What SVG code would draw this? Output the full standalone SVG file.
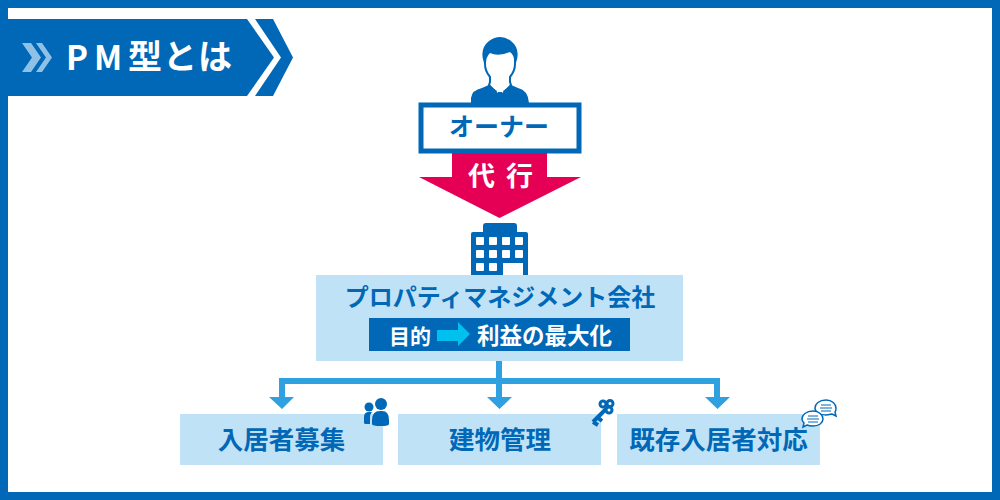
<svg xmlns="http://www.w3.org/2000/svg" width="1000" height="500" viewBox="0 0 1000 500">
<style>
text{font-family:"Noto Sans CJK JP","Noto Sans",sans-serif;font-weight:700;text-anchor:middle}
.b{fill:#0068b7}.lb{fill:#c0e2f6}.bt{fill:#0068b7;font-size:25.500px}.wt{fill:#fff}
.wire{fill:none;stroke:#2fa0e0;stroke-width:6}.head{fill:#2fa0e0}
</style>
<rect x="4" y="4" width="992" height="492" fill="#fff" stroke="#0068b7" stroke-width="8"/>
<g id="title">
<path class="b" d="M0 19H247L274 57.500L247 96H0Z"/>
<path class="b" d="M255 19H273L293 57.500L273 96H255L281 57.500Z"/>
<path d="M22 43H31L41 57.500L31 72H22L32 57.500Z M36 43H42L52 57.500L42 72H36L46 57.500Z" fill="#8fc1e6"/>
<text class="wt" x="66" y="70" font-size="33" style="text-anchor:start;letter-spacing:6px">PM</text>
<text class="wt" x="128" y="69" font-size="34" style="text-anchor:start;letter-spacing:1px">型とは</text>
</g>
<g id="owner">
<g id="owner-icon">
<path class="b" d="M471 103V98Q472 90 482 88L491 84L500 92L509 84L518 88Q528 90 529 103Z"/>
<path d="M485 50V64Q485 71 490 77V82L489 85L500 97L511 85L510 82V77Q515 71 515 64V50Z" fill="#fff" stroke="#0068b7" stroke-width="2"/>
<path class="b" d="M484 63Q479 49 489 41Q500 33 511 41Q521 49 516 63L514 63Q515 56 510 52Q498 57 490 53Q486 57 486 63Z"/>
<path class="b" d="M490 86L497 91L494 97Z M510 86L503 91L506 97Z M498 92H502L505 103H495Z"/>
</g>
<rect x="421" y="105" width="158" height="46" fill="#fff" stroke="#0068b7" stroke-width="5"/>
<text x="499" y="136" font-size="25" fill="#0068b7">オーナー</text>
</g>
<g id="delegate">
<path d="M452 153H547V177H581L499.500 218L419 177H452Z" fill="#e60055"/>
<text class="wt" x="468" y="186" font-size="27" style="text-anchor:start;letter-spacing:11px">代行</text>
</g>
<g id="company">
<g id="building">
<path class="b" d="M471 275V234Q471 232 473 232H483V226Q483 223 486 223H514Q517 223 517 226V232H526Q528 232 528 234V275H523V263H503V275Z"/>
<g fill="#fff">
<rect x="476" y="237" width="8" height="8" rx="1"/><rect x="489" y="237" width="8" height="8" rx="1"/><rect x="502" y="237" width="8" height="8" rx="1"/><rect x="515" y="237" width="8" height="8" rx="1"/>
<rect x="476" y="250" width="8" height="8" rx="1"/><rect x="489" y="250" width="8" height="8" rx="1"/><rect x="502" y="250" width="8" height="8" rx="1"/><rect x="515" y="250" width="8" height="8" rx="1"/>
<rect x="476" y="263" width="8" height="8" rx="1"/><rect x="489" y="263" width="8" height="8" rx="1"/>
</g>
</g>
<rect class="lb" x="316" y="275" width="367" height="86"/>
<text x="500" y="306" font-size="24" fill="#0068b7">プロパティマネジメント会社</text>
<rect class="b" x="369" y="318" width="261" height="33"/>
<text class="wt" x="410" y="344" font-size="21">目的</text>
<path d="M437 330H458V322L470 334L458 346V341H437Z" fill="#00c0f0"/>
<text class="wt" x="544.500" y="344" font-size="22.500">利益の最大化</text>
</g>
<g id="connectors">
<path class="wire" d="M499 361V397 M282 397V381H717V397"/>
<path class="head" d="M269 397H294L282 409Z M487 397H512L499.500 409Z M705 397H730L717.500 409Z"/>
</g>
<g id="n1">
<rect class="lb" x="180" y="414" width="203" height="51"/>
<text class="bt" x="281.500" y="449">入居者募集</text>
<g id="people-icon" class="b">
<circle cx="369" cy="407" r="4.500"/><path d="M364 423V417Q364 412 369 412H372Q370 414 370 418V424H366Q364 424 364 423Z"/>
<circle cx="381" cy="404" r="6"/><path d="M372 420Q372 411 380 411H382Q389 411 389 420V424Q389 426 381 426Q372 426 372 424Z"/>
</g>
</g>
<g id="n2">
<rect class="lb" x="398" y="414" width="203" height="51"/>
<text class="bt" x="500" y="449">建物管理</text>
<g id="key-icon">
<path d="M606 409L593 422M593 422L598 425M597 417L602 421" fill="none" stroke="#0068b7" stroke-width="4"/>
<g fill="none" stroke="#0068b7" stroke-width="3"><circle cx="603" cy="404" r="3"/><circle cx="610" cy="403.500" r="3"/><circle cx="609" cy="410" r="3"/></g>
</g>
</g>
<g id="n3">
<rect class="lb" x="617" y="414" width="203" height="51"/>
<text class="bt" x="718.500" y="449">既存入居者対応</text>
<g id="chat-icon" fill="#fff" stroke="#0068b7" stroke-width="1.500">
<path d="M826 400C819 400 815 404 815 408C815 412 819 415 826 415C829 415 831 414 832 414L836 416L835 412C836 411 836 410 836 408C836 404 832 400 826 400Z"/>
<path d="M813 411C806 411 802 415 802 419C802 421 803 422 804 423L803 427L807 425C809 426 811 426 813 426C819 426 823 423 823 419C823 415 819 411 813 411Z"/>
<path d="M821 405H831M820 408H832M821 411H831M808 416H818M807 419H819M808 422H818" fill="none" stroke-width="1"/>
</g>
</g>
</svg>
